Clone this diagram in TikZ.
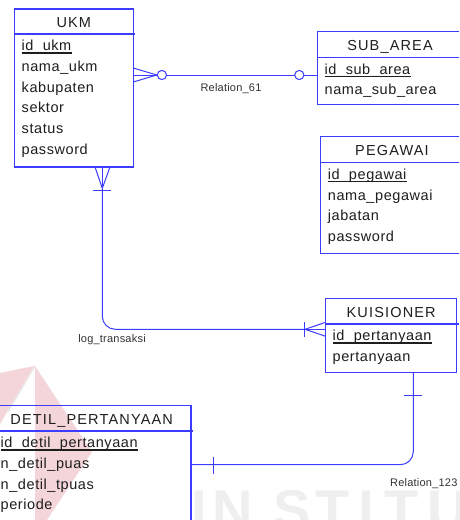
\documentclass[tikz,border=0pt]{standalone}
\usepackage{fontspec}
\setmainfont{Liberation Sans}
\newfontfamily\titlefont[LetterSpace=8]{Liberation Sans}
\newfontfamily\attrfont[LetterSpace=4]{Liberation Sans}
\newfontfamily\relfont[LetterSpace=2]{Liberation Sans}
\newfontfamily\markfont{Liberation Sans Bold}
\definecolor{erblue}{RGB}{60,60,255}
\definecolor{ertext}{RGB}{30,30,30}
\definecolor{erlabel}{RGB}{51,51,51}
\definecolor{wmpink}{RGB}{244,214,218}
\definecolor{wmgrey}{RGB}{239,239,239}
\begin{document}
\begin{tikzpicture}[x=1pt,y=-1pt,
  entbox/.style={draw=erblue, line width=1.1pt, rectangle, inner sep=0pt, outer sep=0pt, anchor=north west},
  entsep/.style={draw=erblue, line width=1.1pt},
  conn/.style={draw=erblue, line width=1pt},
  etitle/.style={anchor=base, inner sep=0pt, text=ertext, font=\titlefont\fontsize{14.5}{16}\selectfont},
  eattr/.style={anchor=base west, inner sep=0pt, text=ertext, font=\attrfont\fontsize{14.5}{16}\selectfont},
  pkline/.style={draw=ertext, line width=1.5pt},
  rlabel/.style={inner sep=0pt, text=erlabel, font=\relfont\fontsize{11}{12}\selectfont},
  wmletter/.style={anchor=base west, inner sep=0pt, text=wmgrey, font=\markfont\fontsize{56}{60}\selectfont},
  optcircle/.style={draw=erblue, line width=1pt, fill=white}
]
\clip (0,0) rectangle (459,520);
\fill[white] (0,0) rectangle (459,520);

% faint logo and lettering in the background
\fill[wmpink] (0,373) -- (34,366) -- (0,424) -- cycle;
\fill[wmpink] (35,366) -- (92,452) -- (35,538) -- cycle;
\draw[gray!25, line width=0.8pt] (35,366) -- (8,412);
\node[wmletter] (wmI1) at (191.4,529) {I};
\node[wmletter] (wmN)  at (212.7,529) {N};
\node[wmletter] (wmS)  at (273,529) {S};
\node[wmletter] (wmT1) at (315.7,529) {T};
\node[wmletter] (wmI2) at (358.1,529) {I};
\node[wmletter] (wmT2) at (384,529) {T};
\node[wmletter] (wmU)  at (427.7,529) {U};

% ---------- UKM ----------
\node[entbox, minimum width=119pt, minimum height=158pt] (ukm) at (14.3,9) {};
\draw[entsep] (14.3,34) -- (134.5,34);
\node[etitle] (ukmT) at (73.8,27) {UKM};
\node[eattr] (ukmA1) at (21.5,50.7) {id\_ukm};
\draw[pkline] ([yshift=-2.3pt]ukmA1.base west) -- ([yshift=-2.3pt]ukmA1.base east);
\node[eattr] (ukmA2) at (21.5,71.4) {nama\_ukm};
\node[eattr] (ukmA3) at (21.5,92.1) {kabupaten};
\node[eattr] (ukmA4) at (21.5,112.8) {sektor};
\node[eattr] (ukmA5) at (21.5,133.5) {status};
\node[eattr] (ukmA6) at (21.5,154.2) {password};

% ---------- SUB_AREA ----------
\node[entbox, minimum width=145pt, minimum height=72.6pt] (sub) at (317.7,31.7) {};
\draw[entsep] (317.7,57.3) -- (462.7,57.3);
\node[etitle] (subT) at (390,50.3) {SUB\_AREA};
\node[eattr] (subA1) at (324.5,74) {id\_sub\_area};
\draw[pkline] ([yshift=-2.3pt]subA1.base west) -- ([yshift=-2.3pt]subA1.base east);
\node[eattr] (subA2) at (324.5,94.7) {nama\_sub\_area};

% ---------- PEGAWAI ----------
\node[entbox, minimum width=143pt, minimum height=116.6pt] (peg) at (320.7,136.7) {};
\draw[entsep] (320.7,162.7) -- (463.7,162.7);
\node[etitle] (pegT) at (392,155.7) {PEGAWAI};
\node[eattr] (pegA1) at (327.7,179.4) {id\_pegawai};
\draw[pkline] ([yshift=-2.3pt]pegA1.base west) -- ([yshift=-2.3pt]pegA1.base east);
\node[eattr] (pegA2) at (327.7,200.1) {nama\_pegawai};
\node[eattr] (pegA3) at (327.7,220.8) {jabatan};
\node[eattr] (pegA4) at (327.7,241.5) {password};

% ---------- KUISIONER ----------
\node[entbox, minimum width=131pt, minimum height=74.4pt] (kuis) at (325.7,298.3) {};
\draw[entsep] (325.7,324) -- (459,324);
\node[etitle] (kuisT) at (391.2,317) {KUISIONER};
\node[eattr] (kuisA1) at (332.5,340.7) {id\_pertanyaan};
\draw[pkline] ([yshift=-2.3pt]kuisA1.base west) -- ([yshift=-2.3pt]kuisA1.base east);
\node[eattr] (kuisA2) at (332.5,361.4) {pertanyaan};

% ---------- DETIL_PERTANYAAN ----------
\node[entbox, minimum width=198.6pt, minimum height=134pt] (detil) at (-7.6,405.7) {};
\draw[entsep] (-7.6,431) -- (193,431);
\node[etitle] (detilT) at (91.7,424) {DETIL\_PERTANYAAN};
\node[eattr] (detilA1) at (0.5,447.7) {id\_detil\_pertanyaan};
\draw[pkline] ([yshift=-2.3pt]detilA1.base west) -- ([yshift=-2.3pt]detilA1.base east);
\node[eattr] (detilA2) at (0.5,468.4) {n\_detil\_puas};
\node[eattr] (detilA3) at (0.5,489.1) {n\_detil\_tpuas};
\node[eattr] (detilA4) at (0.5,509.8) {periode};

% ---------- Relation_61 : UKM -- SUB_AREA ----------
\coordinate (r61tip) at ([xshift=23.4pt,yshift=13pt]ukm.east);
\draw[conn] ([yshift=20pt]ukm.east) -- (r61tip);
\draw[conn] ([yshift=13pt]ukm.east) -- (r61tip);
\draw[conn] ([yshift=6pt]ukm.east) -- (r61tip);
\draw[conn] (r61tip) -- ([yshift=-7pt]sub.west);
\draw[optcircle] ([xshift=5.2pt]r61tip) circle[radius=4.6pt];
\draw[optcircle] ([xshift=-18.4pt,yshift=-7pt]sub.west) circle[radius=4.6pt];
\node[rlabel] (r61lbl) at (231,88.5) {Relation\_61};

% ---------- log_transaksi : UKM -- KUISIONER ----------
\coordinate (logtipU) at ([xshift=28.5pt,yshift=-21.3pt]ukm.south);
\draw[conn] ([xshift=21.2pt]ukm.south) -- (logtipU);
\draw[conn] ([xshift=28.5pt]ukm.south) -- (logtipU);
\draw[conn] ([xshift=36.2pt]ukm.south) -- (logtipU);
\draw[conn] ([xshift=19.2pt,yshift=-23pt]ukm.south) -- ([xshift=37.2pt,yshift=-23pt]ukm.south);
\draw[conn, rounded corners=13pt] (logtipU) |- ([xshift=-20.7pt,yshift=6.2pt]kuis.west);
\coordinate (logtipK) at ([xshift=-20.7pt,yshift=6.2pt]kuis.west);
\draw[conn] ([yshift=13.2pt]kuis.west) -- (logtipK);
\draw[conn] ([yshift=6.2pt]kuis.west) -- (logtipK);
\draw[conn] ([yshift=-0.8pt]kuis.west) -- (logtipK);
\draw[conn] ([xshift=-21.2pt,yshift=13.8pt]kuis.west) -- ([xshift=-21.2pt,yshift=-1.4pt]kuis.west);
\node[rlabel] (loglbl) at (112,340) {log\_transaksi};

% ---------- Relation_123 : KUISIONER -- DETIL_PERTANYAAN ----------
\draw[conn, rounded corners=13pt] ([xshift=22.1pt]kuis.south) |- ([yshift=8pt]detil.east);
\draw[conn] ([xshift=12.6pt,yshift=-23pt]kuis.south) -- ([xshift=30.6pt,yshift=-23pt]kuis.south);
\draw[conn] ([xshift=22.3pt,yshift=16.2pt]detil.east) -- ([xshift=22.3pt,yshift=-1pt]detil.east);
\node[rlabel, anchor=west] (r123lbl) at (390,484) {Relation\_123};
\end{tikzpicture}
\end{document}
